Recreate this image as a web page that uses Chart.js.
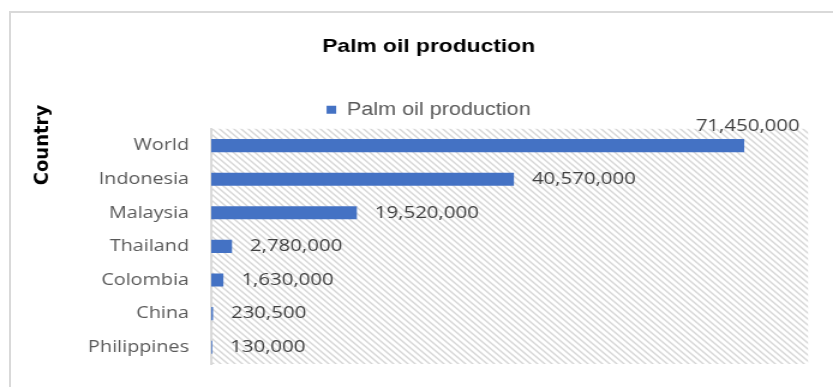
<!DOCTYPE html>
<html><head><meta charset="utf-8">
<script src="https://cdn.jsdelivr.net/npm/chart.js@4/dist/chart.umd.min.js"></script>
<style>
html,body{margin:0;padding:0;background:#fff;width:833px;height:387px;overflow:hidden;}
#frame{position:absolute;left:9px;top:11px;width:900px;height:500px;border-left:2.5px solid #d9d9d9;border-top:2px solid #d9d9d9;}
#wrap{position:absolute;left:0;top:0;width:694px;height:387px;transform:scaleX(1.2003);transform-origin:0 0;}
</style></head><body>
<div id="frame"></div>
<div id="wrap"><canvas id="c"></canvas></div>
<script>
const categories = ['World', 'Indonesia', 'Malaysia', 'Thailand', 'Colombia', 'China', 'Philippines'];
const production = [71450000, 40570000, 19520000, 2780000, 1630000, 230500, 130000];
const seriesName = 'Palm oil production';
const chartTitle = 'Palm oil production';
const axisTitle = 'Country';
const xMin = 0;
const xMax = 80000000;

const STRETCH = 1.2003;

function makePattern(ctx) {
  const s = 6;
  const p = document.createElement('canvas');
  p.width = s; p.height = s;
  const pc = p.getContext('2d');
  pc.strokeStyle = '#d6d6d6';
  pc.lineWidth = 1.4;
  pc.beginPath();
  pc.moveTo(0, 0); pc.lineTo(s, s);
  pc.moveTo(-s / 2, s / 2); pc.lineTo(s / 2, s * 1.5);
  pc.moveTo(s / 2, -s / 2); pc.lineTo(s * 1.5, s / 2);
  pc.stroke();
  return ctx.createPattern(p, 'repeat');
}

const hatchPlugin = {
  id: 'hatch',
  beforeDraw(chart) {
    const {ctx, chartArea: a} = chart;
    ctx.save();
    ctx.fillStyle = makePattern(ctx);
    ctx.fillRect(a.left, a.top, a.right - a.left, a.bottom - a.top);
    ctx.restore();
  }
};

const labelPlugin = {
  id: 'valueLabels',
  afterDatasetsDraw(chart) {
    const {ctx, chartArea: a} = chart;
    const meta = chart.getDatasetMeta(0);
    ctx.save();
    ctx.font = '17px "Open Sans"';
    ctx.fillStyle = '#404040';
    ctx.textBaseline = 'middle';
    meta.data.forEach((bar, i) => {
      const txt = production[i].toLocaleString('en-US');
      const w = ctx.measureText(txt).width;
      let x = bar.x + 15, y = bar.y, align = 'left';
      if (x + w > a.right - 4) { x = a.right - 7; y = bar.y - 19; align = 'right'; }
      ctx.textAlign = align;
      ctx.fillText(txt, x, y);
    });
    ctx.restore();
  }
};

const axisTitlePlugin = {
  id: 'axisTitle',
  afterDraw(chart) {
    const {ctx} = chart;
    ctx.save();
    ctx.translate(43 / STRETCH, 145);
    ctx.scale(1 / STRETCH, 1);
    ctx.rotate(-Math.PI / 2);
    ctx.font = 'bold 18px "DejaVu Sans"';
    ctx.fillStyle = '#000';
    ctx.textAlign = 'center';
    ctx.textBaseline = 'middle';
    ctx.fillText(axisTitle, 0, 0);
    ctx.restore();
  }
};

function build() {
  new Chart(document.getElementById('c'), {
    type: 'bar',
    data: {
      labels: categories,
      datasets: [{
        label: seriesName,
        data: production,
        backgroundColor: '#4472C4',
        borderWidth: 0,
        categoryPercentage: 1,
        barPercentage: 0.39
      }]
    },
    options: {
      indexAxis: 'y',
      responsive: true,
      maintainAspectRatio: false,
      animation: false,
      layout: { padding: { left: 41, right: 20.8, top: 0, bottom: 23 } },
      scales: {
        x: { display: false, min: xMin, max: xMax },
        y: {
          ticks: { font: { family: '"Open Sans"', size: 16.5 }, color: '#595959', padding: 0 },
          grid: { display: true, drawOnChartArea: false, drawTicks: true, tickLength: 18.5, color: 'rgba(0,0,0,0)' },
          border: { display: true, color: '#d9d9d9', width: 2 },
          afterFit(axis) { axis.width = 135; }
        }
      },
      plugins: {
        title: {
          display: true, text: chartTitle, color: '#000',
          font: { family: '"Liberation Sans", Arial', size: 19, weight: 'bold' },
          padding: { top: 35, bottom: 33 }
        },
        legend: {
          display: true,
          labels: {
            boxWidth: 8, boxHeight: 8, padding: 10, color: '#595959',
            font: { family: '"Liberation Sans", Arial', size: 18 }
          }
        },
        tooltip: { enabled: false }
      }
    },
    plugins: [hatchPlugin, labelPlugin, axisTitlePlugin]
  });
}

Promise.all([
  document.fonts.load('16px "Open Sans"'),
  document.fonts.load('bold 19px "Liberation Sans"'),
  document.fonts.load('18px "Liberation Sans"'),
  document.fonts.load('bold 18px "DejaVu Sans"')
]).then(build, build);
</script>
</body></html>
